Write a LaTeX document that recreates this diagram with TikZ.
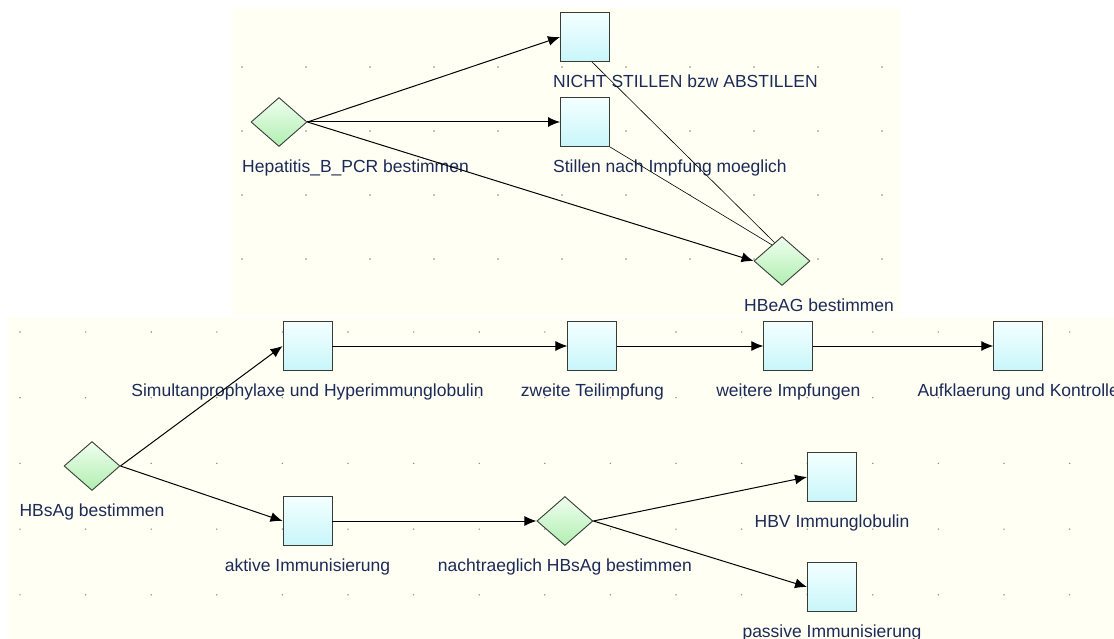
\documentclass[tikz,border=0pt]{standalone}
\usepackage{xcolor}
\usepackage{fontspec}
\setmainfont{Liberation Sans}
\usetikzlibrary{shapes.geometric,arrows.meta,positioning,calc}

\definecolor{panelbg}{RGB}{255,255,244}
\definecolor{griddot}{RGB}{140,140,135}
\definecolor{labeltext}{RGB}{28,42,88}
\definecolor{boxtop}{RGB}{244,255,255}
\definecolor{boxbottom}{RGB}{200,246,250}
\definecolor{dectop}{RGB}{240,255,240}
\definecolor{decbottom}{RGB}{176,238,176}
\definecolor{outline}{RGB}{55,60,55}

\begin{document}
\begin{tikzpicture}[
    x=1pt, y=-1pt,
    label distance=25.5pt,
    task/.style={rectangle, draw=outline, line width=0.9pt, top color=boxtop, bottom color=boxbottom, minimum width=49pt, minimum height=49pt, inner sep=0pt},
    decision/.style={diamond, draw=outline, line width=0.9pt, top color=dectop, bottom color=decbottom, minimum width=56pt, minimum height=49pt, inner sep=0pt},
    lbl/.style={font=\fontsize{17.5}{21}\selectfont, text=labeltext, inner sep=0pt, anchor=base},
    flow/.style={-{Latex[length=12pt,width=10pt]}, line width=1pt},
    link/.style={line width=0.6pt}
]
\useasboundingbox (0,0) rectangle (1114,639);

% Panels with dot grid
\fill[panelbg] (233,8) rectangle (900,315);
\fill[panelbg] (8,318) rectangle (1114,639);
\foreach \i in {0,...,10}
  \foreach \j in {0,...,3}
    \fill[griddot] (242+64*\i,67+64*\j) circle (0.8pt);
\foreach \i in {0,...,16}
  \foreach \j in {0,...,4}
    \fill[griddot] (20+65.6*\i,332+65.7*\j) circle (0.8pt);

% Upper panel: breast feeding decision
\node[decision, label={[lbl, anchor=base west, xshift=-37pt]below:Hepatitis\_B\_PCR bestimmen}] (hep) at (279,122) {};
\node[task, label={[lbl, anchor=base west, xshift=-32pt]below:NICHT STILLEN bzw ABSTILLEN}] (nicht) at (585,37) {};
\node[task, label={[lbl, anchor=base west, xshift=-32pt]below:Stillen nach Impfung moeglich}] (stillen) at (585,122) {};
\node[decision, label={[lbl, anchor=base west, xshift=-38pt]below:HBeAG bestimmen}] (hbeag) at (782,261) {};

\draw[flow] (hep.east) -- (nicht.west);
\draw[flow] (hep.east) -- (stillen.west);
\draw[flow] (hep.east) -- (hbeag.west);
\draw[link] ([xshift=7pt]nicht.south) -- (hbeag.112);
\draw[link] (stillen.south east) -- (hbeag.122);

% Lower panel: newborn
\node[decision, label={[lbl]below:HBsAg bestimmen}] (hbsag) at (92,466) {};
\node[task, label={[lbl]below:Simultanprophylaxe und Hyperimmunglobulin}] (simultan) at (307.5,346) {};
\node[task, right=235pt of simultan, label={[lbl]below:zweite Teilimpfung}] (zweite) {};
\node[task, right=146pt of zweite, label={[lbl]below:weitere Impfungen}] (weitere) {};
\node[task, right=180pt of weitere, label={[lbl]below:Aufklaerung und Kontrolle}] (aufkl) {};
\node[task, label={[lbl]below:aktive Immunisierung}] (aktiv) at (307.5,521) {};
\node[decision, right=204pt of aktiv, label={[lbl]below:nachtraeglich HBsAg bestimmen}] (nachtr) {};
\node[task, label={[lbl]below:HBV Immunglobulin}] (hbv) at (832,477) {};
\node[task, label={[lbl]below:passive Immunisierung}] (passive) at (832,587) {};

\draw[flow] (hbsag.east) -- (simultan.west);
\draw[flow] (hbsag.east) -- (aktiv.west);
\draw[flow] (simultan) -- (zweite);
\draw[flow] (zweite) -- (weitere);
\draw[flow] (weitere) -- (aufkl);
\draw[flow] (aktiv) -- (nachtr);
\draw[flow] (nachtr.east) -- (hbv.west);
\draw[flow] (nachtr.east) -- (passive.west);
\end{tikzpicture}
\end{document}
